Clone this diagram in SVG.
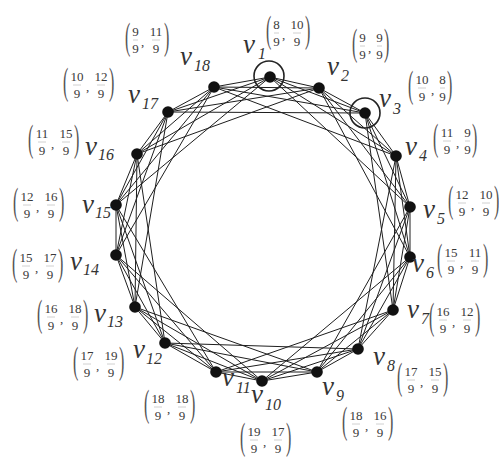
<svg xmlns="http://www.w3.org/2000/svg" width="499" height="457" viewBox="0 0 499 457">
<style>
.e{stroke:#1e1e1e;stroke-width:1;fill:none}
.dot{fill:#111}
.ring{fill:none;stroke:#222;stroke-width:1.6}
.v{font-family:"Liberation Serif",serif;font-style:italic;font-size:27px;fill:#333}
.s{font-family:"Liberation Serif",serif;font-style:italic;font-size:16px;fill:#333}
.n{font-family:"Liberation Serif",serif;font-size:13px;fill:#3a3a3a;text-anchor:middle}
.c{font-family:"Liberation Serif",serif;font-size:13px;fill:#3a3a3a}
.p{font-family:"Liberation Serif",serif;font-size:16px;fill:#555}
.b{stroke:#c4c4c4;stroke-width:0.8}
</style>
<rect width="499" height="457" fill="#fff"/>
<g id="connectors">
<line class="e" x1="270" y1="77" x2="319" y2="88"/>
<line class="e" x1="319" y1="88" x2="365" y2="113"/>
<line class="e" x1="365" y1="113" x2="396" y2="156"/>
<line class="e" x1="396" y1="156" x2="410" y2="207"/>
<line class="e" x1="410" y1="207" x2="410" y2="257"/>
<line class="e" x1="410" y1="257" x2="393" y2="310"/>
<line class="e" x1="393" y1="310" x2="358" y2="349"/>
<line class="e" x1="358" y1="349" x2="317" y2="372"/>
<line class="e" x1="317" y1="372" x2="262" y2="381"/>
<line class="e" x1="262" y1="381" x2="216" y2="372"/>
<line class="e" x1="216" y1="372" x2="165" y2="343"/>
<line class="e" x1="165" y1="343" x2="135" y2="307"/>
<line class="e" x1="135" y1="307" x2="116" y2="255"/>
<line class="e" x1="116" y1="255" x2="116" y2="205"/>
<line class="e" x1="116" y1="205" x2="137" y2="154"/>
<line class="e" x1="137" y1="154" x2="168" y2="112"/>
<line class="e" x1="168" y1="112" x2="214" y2="87"/>
<line class="e" x1="214" y1="87" x2="270" y2="77"/>
<line class="e" x1="270" y1="77" x2="365" y2="113"/>
<line class="e" x1="319" y1="88" x2="396" y2="156"/>
<line class="e" x1="365" y1="113" x2="410" y2="207"/>
<line class="e" x1="396" y1="156" x2="410" y2="257"/>
<line class="e" x1="410" y1="207" x2="393" y2="310"/>
<line class="e" x1="410" y1="257" x2="358" y2="349"/>
<line class="e" x1="393" y1="310" x2="317" y2="372"/>
<line class="e" x1="358" y1="349" x2="262" y2="381"/>
<line class="e" x1="317" y1="372" x2="216" y2="372"/>
<line class="e" x1="262" y1="381" x2="165" y2="343"/>
<line class="e" x1="216" y1="372" x2="135" y2="307"/>
<line class="e" x1="165" y1="343" x2="116" y2="255"/>
<line class="e" x1="135" y1="307" x2="116" y2="205"/>
<line class="e" x1="116" y1="255" x2="137" y2="154"/>
<line class="e" x1="116" y1="205" x2="168" y2="112"/>
<line class="e" x1="137" y1="154" x2="214" y2="87"/>
<line class="e" x1="168" y1="112" x2="270" y2="77"/>
<line class="e" x1="214" y1="87" x2="319" y2="88"/>
<line class="e" x1="270" y1="77" x2="396" y2="156"/>
<line class="e" x1="319" y1="88" x2="410" y2="207"/>
<line class="e" x1="365" y1="113" x2="410" y2="257"/>
<line class="e" x1="396" y1="156" x2="393" y2="310"/>
<line class="e" x1="410" y1="207" x2="358" y2="349"/>
<line class="e" x1="410" y1="257" x2="317" y2="372"/>
<line class="e" x1="393" y1="310" x2="262" y2="381"/>
<line class="e" x1="358" y1="349" x2="216" y2="372"/>
<line class="e" x1="317" y1="372" x2="165" y2="343"/>
<line class="e" x1="262" y1="381" x2="135" y2="307"/>
<line class="e" x1="216" y1="372" x2="116" y2="255"/>
<line class="e" x1="165" y1="343" x2="116" y2="205"/>
<line class="e" x1="135" y1="307" x2="137" y2="154"/>
<line class="e" x1="116" y1="255" x2="168" y2="112"/>
<line class="e" x1="116" y1="205" x2="214" y2="87"/>
<line class="e" x1="137" y1="154" x2="270" y2="77"/>
<line class="e" x1="168" y1="112" x2="319" y2="88"/>
<line class="e" x1="214" y1="87" x2="365" y2="113"/>
<line class="e" x1="270" y1="77" x2="410" y2="207"/>
<line class="e" x1="319" y1="88" x2="410" y2="257"/>
<line class="e" x1="365" y1="113" x2="393" y2="310"/>
<line class="e" x1="396" y1="156" x2="358" y2="349"/>
<line class="e" x1="410" y1="207" x2="317" y2="372"/>
<line class="e" x1="410" y1="257" x2="262" y2="381"/>
<line class="e" x1="393" y1="310" x2="216" y2="372"/>
<line class="e" x1="358" y1="349" x2="165" y2="343"/>
<line class="e" x1="317" y1="372" x2="135" y2="307"/>
<line class="e" x1="262" y1="381" x2="116" y2="255"/>
<line class="e" x1="216" y1="372" x2="116" y2="205"/>
<line class="e" x1="165" y1="343" x2="137" y2="154"/>
<line class="e" x1="135" y1="307" x2="168" y2="112"/>
<line class="e" x1="116" y1="255" x2="214" y2="87"/>
<line class="e" x1="116" y1="205" x2="270" y2="77"/>
<line class="e" x1="137" y1="154" x2="319" y2="88"/>
<line class="e" x1="168" y1="112" x2="365" y2="113"/>
<line class="e" x1="214" y1="87" x2="396" y2="156"/>
</g>

<g id="v1">
<circle class="dot" cx="270" cy="77" r="5.8"/>
<circle class="ring" cx="269" cy="76" r="15"/>
<text class="v" x="243" y="53">v</text><text class="s" x="258" y="59">1</text>
<g transform="translate(266,15)">
<text class="p" transform="translate(0,26.5) scale(1,2.4)">(</text>
<text class="n" x="10.5" y="14">8</text><line class="b" x1="8" y1="18" x2="13" y2="18"/><text class="n" x="10.5" y="31">9</text>
<text class="c" x="16" y="24">,</text>
<text class="n" x="31" y="14">10</text><line class="b" x1="27" y1="18" x2="35" y2="18"/><text class="n" x="31" y="31">9</text>
<text class="p" transform="translate(39,26.5) scale(1,2.4)">)</text>
</g>
</g>

<g id="v2">
<circle class="dot" cx="319" cy="88" r="5.8"/>
<text class="v" x="327" y="75">v</text><text class="s" x="341" y="81">2</text>
<g transform="translate(352,28)">
<text class="p" transform="translate(0,26.5) scale(1,2.4)">(</text>
<text class="n" x="10.5" y="14">9</text><line class="b" x1="8" y1="18" x2="13" y2="18"/><text class="n" x="10.5" y="31">9</text>
<text class="c" x="16" y="24">,</text>
<text class="n" x="27.5" y="14">9</text><line class="b" x1="25" y1="18" x2="30" y2="18"/><text class="n" x="27.5" y="31">9</text>
<text class="p" transform="translate(32,26.5) scale(1,2.4)">)</text>
</g>
</g>

<g id="v3">
<circle class="dot" cx="365" cy="113" r="5.8"/>
<circle class="ring" cx="365" cy="113" r="15"/>
<text class="v" x="379" y="107">v</text><text class="s" x="393" y="114">3</text>
<g transform="translate(408,70)">
<text class="p" transform="translate(0,26.5) scale(1,2.4)">(</text>
<text class="n" x="14" y="14">10</text><line class="b" x1="10" y1="18" x2="18" y2="18"/><text class="n" x="14" y="31">9</text>
<text class="c" x="23" y="24">,</text>
<text class="n" x="34.5" y="14">8</text><line class="b" x1="32" y1="18" x2="37" y2="18"/><text class="n" x="34.5" y="31">9</text>
<text class="p" transform="translate(39,26.5) scale(1,2.4)">)</text>
</g>
</g>

<g id="v4">
<circle class="dot" cx="396" cy="156" r="5.8"/>
<text class="v" x="405" y="155">v</text><text class="s" x="419" y="161">4</text>
<g transform="translate(433,123)">
<text class="p" transform="translate(0,26.5) scale(1,2.4)">(</text>
<text class="n" x="14" y="14">11</text><line class="b" x1="10" y1="18" x2="18" y2="18"/><text class="n" x="14" y="31">9</text>
<text class="c" x="23" y="24">,</text>
<text class="n" x="34.5" y="14">9</text><line class="b" x1="32" y1="18" x2="37" y2="18"/><text class="n" x="34.5" y="31">9</text>
<text class="p" transform="translate(39,26.5) scale(1,2.4)">)</text>
</g>
</g>

<g id="v5">
<circle class="dot" cx="410" cy="207" r="5.8"/>
<text class="v" x="423" y="218">v</text><text class="s" x="437" y="224">5</text>
<g transform="translate(448,185)">
<text class="p" transform="translate(0,26.5) scale(1,2.4)">(</text>
<text class="n" x="14" y="14">12</text><line class="b" x1="10" y1="18" x2="18" y2="18"/><text class="n" x="14" y="31">9</text>
<text class="c" x="23" y="24">,</text>
<text class="n" x="38" y="14">10</text><line class="b" x1="34" y1="18" x2="42" y2="18"/><text class="n" x="38" y="31">9</text>
<text class="p" transform="translate(46,26.5) scale(1,2.4)">)</text>
</g>
</g>

<g id="v6">
<circle class="dot" cx="410" cy="257" r="5.8"/>
<text class="v" x="412" y="272">v</text><text class="s" x="426" y="278">6</text>
<g transform="translate(437,243)">
<text class="p" transform="translate(0,26.5) scale(1,2.4)">(</text>
<text class="n" x="14" y="14">15</text><line class="b" x1="10" y1="18" x2="18" y2="18"/><text class="n" x="14" y="31">9</text>
<text class="c" x="23" y="24">,</text>
<text class="n" x="38" y="14">11</text><line class="b" x1="34" y1="18" x2="42" y2="18"/><text class="n" x="38" y="31">9</text>
<text class="p" transform="translate(46,26.5) scale(1,2.4)">)</text>
</g>
</g>

<g id="v7">
<circle class="dot" cx="393" cy="310" r="5.8"/>
<text class="v" x="407" y="318">v</text><text class="s" x="421" y="324">7</text>
<g transform="translate(429,302)">
<text class="p" transform="translate(0,26.5) scale(1,2.4)">(</text>
<text class="n" x="14" y="14">16</text><line class="b" x1="10" y1="18" x2="18" y2="18"/><text class="n" x="14" y="31">9</text>
<text class="c" x="23" y="24">,</text>
<text class="n" x="38" y="14">12</text><line class="b" x1="34" y1="18" x2="42" y2="18"/><text class="n" x="38" y="31">9</text>
<text class="p" transform="translate(46,26.5) scale(1,2.4)">)</text>
</g>
</g>

<g id="v8">
<circle class="dot" cx="358" cy="349" r="5.8"/>
<text class="v" x="373" y="365">v</text><text class="s" x="387" y="371">8</text>
<g transform="translate(397,362)">
<text class="p" transform="translate(0,26.5) scale(1,2.4)">(</text>
<text class="n" x="14" y="14">17</text><line class="b" x1="10" y1="18" x2="18" y2="18"/><text class="n" x="14" y="31">9</text>
<text class="c" x="23" y="24">,</text>
<text class="n" x="38" y="14">15</text><line class="b" x1="34" y1="18" x2="42" y2="18"/><text class="n" x="38" y="31">9</text>
<text class="p" transform="translate(46,26.5) scale(1,2.4)">)</text>
</g>
</g>

<g id="v9">
<circle class="dot" cx="317" cy="372" r="5.8"/>
<text class="v" x="322" y="395">v</text><text class="s" x="336" y="401">9</text>
<g transform="translate(342,406)">
<text class="p" transform="translate(0,26.5) scale(1,2.4)">(</text>
<text class="n" x="14" y="14">18</text><line class="b" x1="10" y1="18" x2="18" y2="18"/><text class="n" x="14" y="31">9</text>
<text class="c" x="23" y="24">,</text>
<text class="n" x="38" y="14">16</text><line class="b" x1="34" y1="18" x2="42" y2="18"/><text class="n" x="38" y="31">9</text>
<text class="p" transform="translate(46,26.5) scale(1,2.4)">)</text>
</g>
</g>

<g id="v10">
<circle class="dot" cx="262" cy="381" r="5.8"/>
<text class="v" x="251" y="403">v</text><text class="s" x="265" y="410">10</text>
<g transform="translate(240,422)">
<text class="p" transform="translate(0,26.5) scale(1,2.4)">(</text>
<text class="n" x="14" y="14">19</text><line class="b" x1="10" y1="18" x2="18" y2="18"/><text class="n" x="14" y="31">9</text>
<text class="c" x="23" y="24">,</text>
<text class="n" x="38" y="14">17</text><line class="b" x1="34" y1="18" x2="42" y2="18"/><text class="n" x="38" y="31">9</text>
<text class="p" transform="translate(46,26.5) scale(1,2.4)">)</text>
</g>
</g>

<g id="v11">
<circle class="dot" cx="216" cy="372" r="5.8"/>
<text class="v" x="222" y="386">v</text><text class="s" x="236" y="393">11</text>
<g transform="translate(144,389)">
<text class="p" transform="translate(0,26.5) scale(1,2.4)">(</text>
<text class="n" x="14" y="14">18</text><line class="b" x1="10" y1="18" x2="18" y2="18"/><text class="n" x="14" y="31">9</text>
<text class="c" x="23" y="24">,</text>
<text class="n" x="38" y="14">18</text><line class="b" x1="34" y1="18" x2="42" y2="18"/><text class="n" x="38" y="31">9</text>
<text class="p" transform="translate(46,26.5) scale(1,2.4)">)</text>
</g>
</g>

<g id="v12">
<circle class="dot" cx="165" cy="343" r="5.8"/>
<text class="v" x="133" y="358">v</text><text class="s" x="146" y="364">12</text>
<g transform="translate(73,346)">
<text class="p" transform="translate(0,26.5) scale(1,2.4)">(</text>
<text class="n" x="14" y="14">17</text><line class="b" x1="10" y1="18" x2="18" y2="18"/><text class="n" x="14" y="31">9</text>
<text class="c" x="23" y="24">,</text>
<text class="n" x="38" y="14">19</text><line class="b" x1="34" y1="18" x2="42" y2="18"/><text class="n" x="38" y="31">9</text>
<text class="p" transform="translate(46,26.5) scale(1,2.4)">)</text>
</g>
</g>

<g id="v13">
<circle class="dot" cx="135" cy="307" r="5.8"/>
<text class="v" x="94" y="322">v</text><text class="s" x="107" y="327">13</text>
<g transform="translate(37,299)">
<text class="p" transform="translate(0,26.5) scale(1,2.4)">(</text>
<text class="n" x="14" y="14">16</text><line class="b" x1="10" y1="18" x2="18" y2="18"/><text class="n" x="14" y="31">9</text>
<text class="c" x="23" y="24">,</text>
<text class="n" x="38" y="14">18</text><line class="b" x1="34" y1="18" x2="42" y2="18"/><text class="n" x="38" y="31">9</text>
<text class="p" transform="translate(46,26.5) scale(1,2.4)">)</text>
</g>
</g>

<g id="v14">
<circle class="dot" cx="116" cy="255" r="5.8"/>
<text class="v" x="70" y="270">v</text><text class="s" x="83" y="275">14</text>
<g transform="translate(12,248)">
<text class="p" transform="translate(0,26.5) scale(1,2.4)">(</text>
<text class="n" x="14" y="14">15</text><line class="b" x1="10" y1="18" x2="18" y2="18"/><text class="n" x="14" y="31">9</text>
<text class="c" x="23" y="24">,</text>
<text class="n" x="38" y="14">17</text><line class="b" x1="34" y1="18" x2="42" y2="18"/><text class="n" x="38" y="31">9</text>
<text class="p" transform="translate(46,26.5) scale(1,2.4)">)</text>
</g>
</g>

<g id="v15">
<circle class="dot" cx="116" cy="205" r="5.8"/>
<text class="v" x="82" y="213">v</text><text class="s" x="95" y="218">15</text>
<g transform="translate(13,187)">
<text class="p" transform="translate(0,26.5) scale(1,2.4)">(</text>
<text class="n" x="14" y="14">12</text><line class="b" x1="10" y1="18" x2="18" y2="18"/><text class="n" x="14" y="31">9</text>
<text class="c" x="23" y="24">,</text>
<text class="n" x="38" y="14">16</text><line class="b" x1="34" y1="18" x2="42" y2="18"/><text class="n" x="38" y="31">9</text>
<text class="p" transform="translate(46,26.5) scale(1,2.4)">)</text>
</g>
</g>

<g id="v16">
<circle class="dot" cx="137" cy="154" r="5.8"/>
<text class="v" x="85" y="155">v</text><text class="s" x="98" y="160">16</text>
<g transform="translate(28,124)">
<text class="p" transform="translate(0,26.5) scale(1,2.4)">(</text>
<text class="n" x="14" y="14">11</text><line class="b" x1="10" y1="18" x2="18" y2="18"/><text class="n" x="14" y="31">9</text>
<text class="c" x="23" y="24">,</text>
<text class="n" x="38" y="14">15</text><line class="b" x1="34" y1="18" x2="42" y2="18"/><text class="n" x="38" y="31">9</text>
<text class="p" transform="translate(46,26.5) scale(1,2.4)">)</text>
</g>
</g>

<g id="v17">
<circle class="dot" cx="168" cy="112" r="5.8"/>
<text class="v" x="128" y="103">v</text><text class="s" x="142" y="109">17</text>
<g transform="translate(63,67)">
<text class="p" transform="translate(0,26.5) scale(1,2.4)">(</text>
<text class="n" x="14" y="14">10</text><line class="b" x1="10" y1="18" x2="18" y2="18"/><text class="n" x="14" y="31">9</text>
<text class="c" x="23" y="24">,</text>
<text class="n" x="38" y="14">12</text><line class="b" x1="34" y1="18" x2="42" y2="18"/><text class="n" x="38" y="31">9</text>
<text class="p" transform="translate(46,26.5) scale(1,2.4)">)</text>
</g>
</g>

<g id="v18">
<circle class="dot" cx="214" cy="87" r="5.8"/>
<text class="v" x="180" y="65">v</text><text class="s" x="194" y="71">18</text>
<g transform="translate(125,22)">
<text class="p" transform="translate(0,26.5) scale(1,2.4)">(</text>
<text class="n" x="10.5" y="14">9</text><line class="b" x1="8" y1="18" x2="13" y2="18"/><text class="n" x="10.5" y="31">9</text>
<text class="c" x="16" y="24">,</text>
<text class="n" x="31" y="14">11</text><line class="b" x1="27" y1="18" x2="35" y2="18"/><text class="n" x="31" y="31">9</text>
<text class="p" transform="translate(39,26.5) scale(1,2.4)">)</text>
</g>
</g>
</svg>
